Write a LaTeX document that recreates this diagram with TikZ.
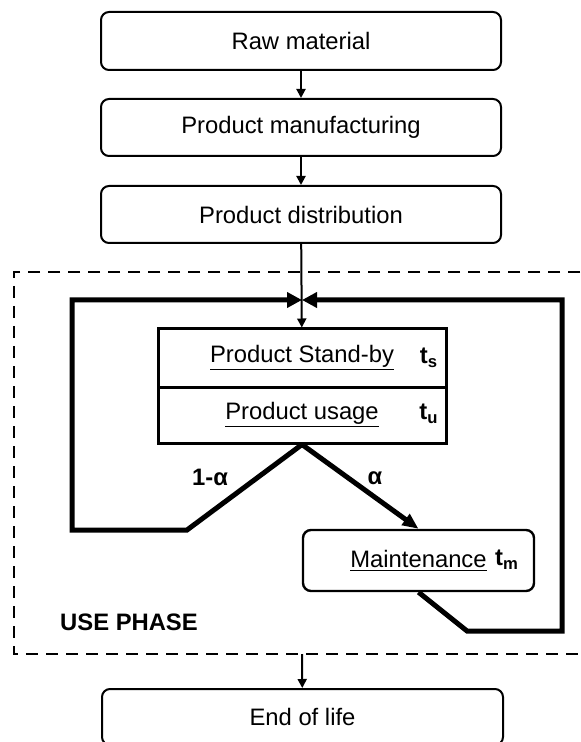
\documentclass[tikz,border=0pt]{standalone}
\usepackage{fontspec}
\setmainfont{Liberation Sans}
\usetikzlibrary{arrows.meta}

\tikzset{
    stage/.style={draw, line width=1pt, rounded corners=4pt, minimum width=200pt,
	minimum height=29pt, inner sep=0pt},
    phasebox/.style={draw, line width=1.5pt, minimum width=144pt, inner sep=0pt},
    flow/.style={line width=1pt, -{Triangle[length=4.5pt,width=4.5pt]}},
    loop/.style={line width=2.5pt, line join=miter},
    looparrow/.style={loop, -{Triangle[length=7.5pt,width=7.5pt]}},
    tlabel/.style={font=\bfseries\fontsize{11.9pt}{14pt}\selectfont},
}

\begin{document}
\begin{tikzpicture}[x=0.5pt, y=-0.5pt, font=\fontsize{11.9pt}{14pt}\selectfont]
    \useasboundingbox (0,0) rectangle (580,742);

    \path (301,41) node [stage] (raw) {Raw material};
    \path (301,127.5) node [stage, minimum height=28.5pt] (man) {Product manufacturing};
    \draw [flow] (raw) -- (man);
    \path (301,214.5) node [stage, minimum height=28.5pt] (dis) {Product distribution};
    \draw [flow] (man) -- (dis);

    % use phase frame
    \draw [line width=1.2pt, dash pattern=on 6pt off 4pt] (580,272) -| (14,654) -- (580,654);
    \path (302,654) coordinate (ub);
    \path (129,622) node [tlabel] (up) {USE PHASE};

    \path (302,300) coordinate (meet);
    \path (302,358) node [phasebox, minimum height=29pt] (sb) {\underline{Product Stand-by}};
    \path (302,415) node [phasebox, minimum height=28pt] (us) {\underline{Product usage}};
    \path (429,358) node [tlabel] (ts) {t\textsubscript{s}};
    \path (429,414) node [tlabel] (tu) {t\textsubscript{u}};
    \draw [flow] (dis) -- (sb);

    \path (418.5,560.5) node [draw, line width=1.2pt, rounded corners=4pt, minimum width=115.5pt,
	minimum height=30.5pt, inner sep=0pt] (mt) {\underline{Maintenance}};
    \path (507,560) node [tlabel] (tm) {t\textsubscript{m}};

    % loops back to stand-by
    \draw [looparrow] (us.south) -- (187,530) -- (72,530) |- (meet);
    \path (210,477) node [tlabel] (na) {1-α};
    \draw [loop, -{Triangle[length=8pt,width=6.5pt]}] (us.south) -- (mt.north);
    \path (375,478) node [tlabel] (al) {α};
    \draw [looparrow] (mt.south) -- (467,631) -- (562,631) |- (meet);

    \path (302.5,717) node [stage, minimum width=200.5pt, minimum height=28pt] (eol) {End of life};
    \draw [flow] (ub) -- (eol);
\end{tikzpicture}
\end{document}
